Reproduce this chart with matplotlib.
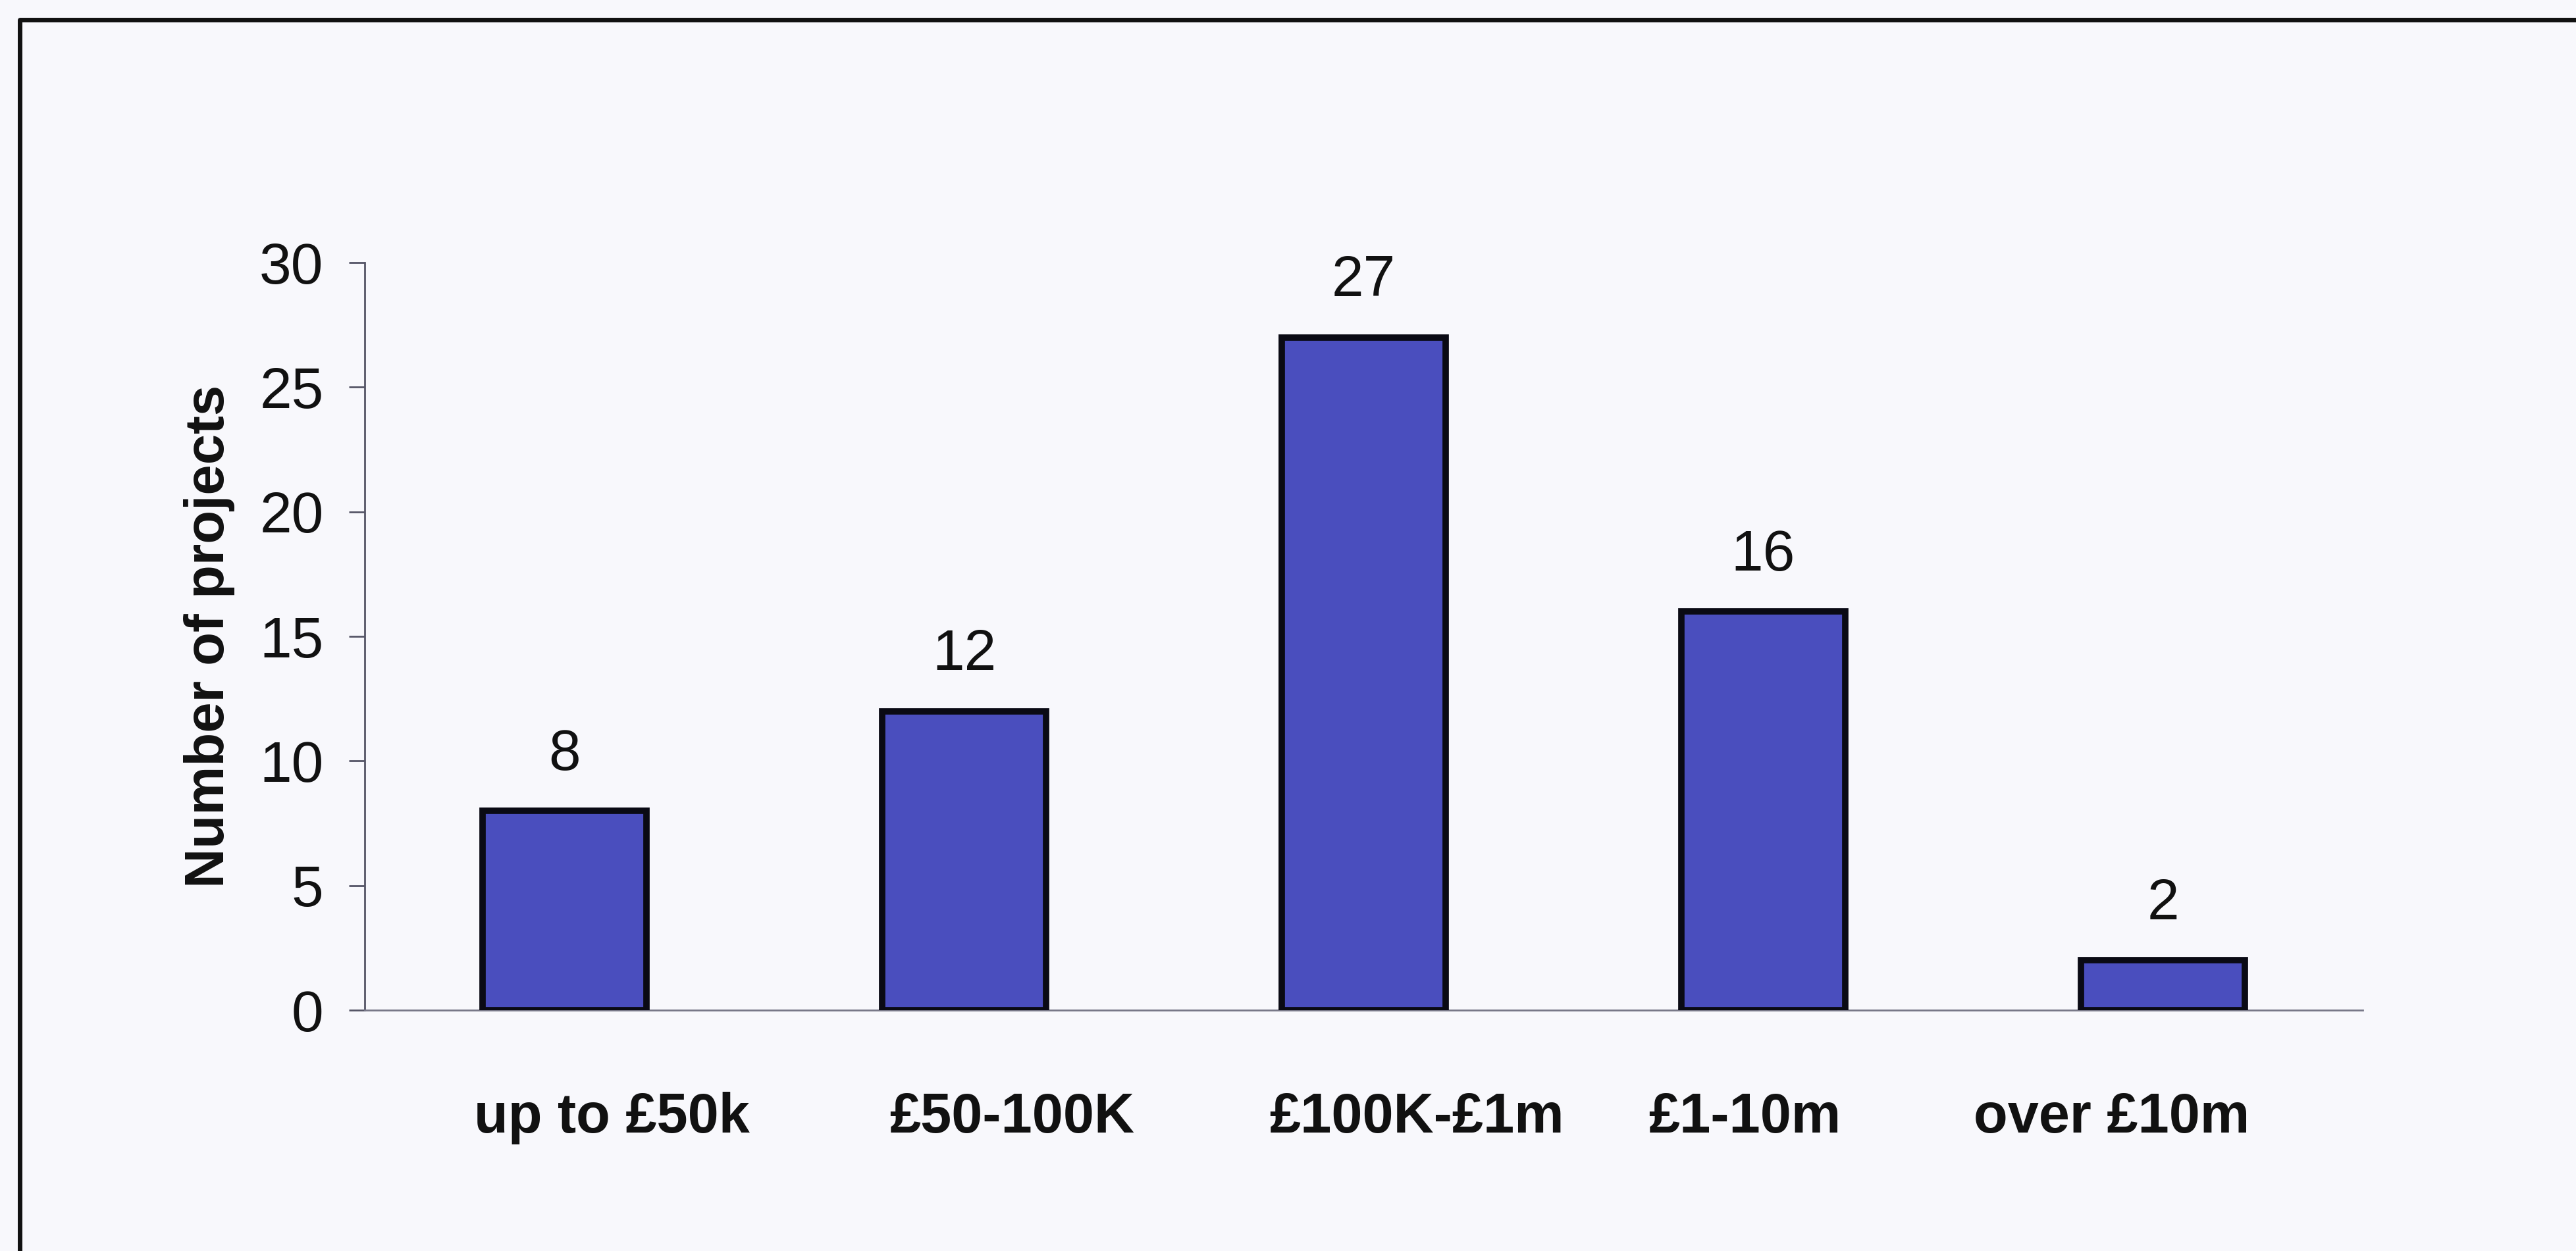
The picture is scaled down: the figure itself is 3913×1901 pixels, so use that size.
import matplotlib
matplotlib.use("Agg")
import matplotlib.pyplot as plt
from matplotlib.lines import Line2D
from matplotlib.transforms import ScaledTranslation

categories = ["up to £50k", "£50-100K", "£100K-£1m", "£1-10m", "over £10m"]
projects = [8, 12, 27, 16, 2]
y_ticks = [0, 5, 10, 15, 20, 25, 30]

# horizontal nudges (points) applied to the category labels
label_nudge = [52, 52, 58, -20, -56]

W, H, DPI = 3913, 1901, 100
plt.rcParams["font.family"] = ["Liberation Sans", "DejaVu Sans"]

fig = plt.figure(figsize=(W / DPI, H / DPI), dpi=DPI)
fig.patch.set_facecolor("#f8f8fc")

ax = fig.add_axes([554 / W, 1 - 1535 / H, (3589 - 554) / W, (1535 - 399) / H])
ax.set_facecolor("none")

x = range(len(categories))
bars = ax.bar(x, projects, width=0.41, color="#4a4ebe", edgecolor="#0a0a14",
              linewidth=7, zorder=3)

for rect, v in zip(bars, projects):
    ax.annotate(str(v), (rect.get_x() + rect.get_width() / 2, v),
                xytext=(0, 45), textcoords="offset points",
                ha="center", va="baseline", fontsize=63, color="#111111")

ax.set_xlim(-0.5, len(categories) - 0.5)
ax.set_ylim(0, 30)
ax.set_yticks(y_ticks)
ax.set_xticks(list(x))
ax.set_xticklabels(categories, fontsize=61, fontweight="bold", color="#111111")
ax.tick_params(axis="x", length=0, pad=89)
ax.tick_params(axis="y", direction="out", length=17, width=2, color="#555566",
               labelsize=63, labelcolor="#111111", pad=28)
for lbl, dx in zip(ax.get_xticklabels(), label_nudge):
    lbl.set_transform(lbl.get_transform()
                      + ScaledTranslation(dx / 72, 0, fig.dpi_scale_trans))

ax.set_ylabel("Number of projects", fontsize=60, fontweight="bold",
              color="#111111", va="center")
ax.yaxis.set_label_coords(-0.0777, 0.5)

for side in ("top", "right"):
    ax.spines[side].set_visible(False)
ax.spines["left"].set_color("#555566")
ax.spines["left"].set_linewidth(2)
ax.spines["bottom"].set_color("#777788")
ax.spines["bottom"].set_linewidth(2)

# outer chart frame (left and top edges)
fx0, fy0 = 30 / W, 1 - 30 / H
fig.add_artist(Line2D([fx0, fx0, 1.01], [-0.01, fy0, fy0],
                      transform=fig.transFigure, color="#111111", linewidth=5))

fig.savefig("out.png", dpi=DPI, facecolor=fig.get_facecolor())
